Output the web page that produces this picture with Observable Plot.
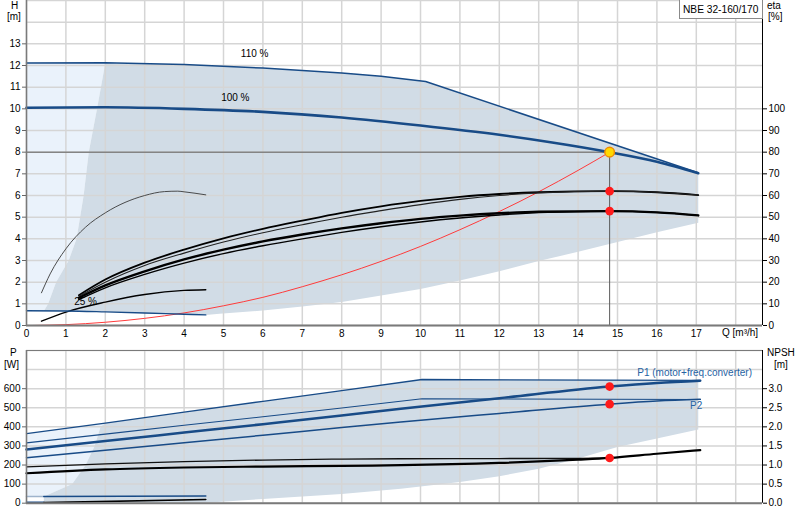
<!DOCTYPE html>
<html><head><meta charset="utf-8">
<script src="https://cdn.jsdelivr.net/npm/d3@7"></script>
<script src="https://cdn.jsdelivr.net/npm/@observablehq/plot@0.6"></script>
<style>
body{margin:0;background:#fff;font-family:"Liberation Sans",Arial,sans-serif;}
#wrap{position:relative;width:800px;height:520px;overflow:hidden;background:#fff}
.lbl{position:absolute;font-size:10px;line-height:12px;color:#000;white-space:nowrap}
#title{position:absolute;left:679px;top:-1px;height:20px;width:84px;border:1px solid #8a8a8a;background:#fff;font-size:10.2px;line-height:19px;padding-left:3px;box-sizing:border-box;white-space:nowrap;overflow:hidden}
</style></head><body>
<div id="wrap">
  <div id="top" style="position:absolute;left:0;top:0"></div>
  <div id="bot" style="position:absolute;left:0;top:345px"></div>
  <div id="title">NBE 32-160/170</div>
  <div class="lbl" style="left:11px;top:0px">H</div>
  <div class="lbl" style="left:7px;top:11px">[m]</div>
  <div class="lbl" style="left:767px;top:0px">eta</div>
  <div class="lbl" style="left:768px;top:11px">[%]</div>
  <div class="lbl" style="left:722px;top:327px">Q [m³/h]</div>
  <div class="lbl" style="left:10px;top:347px">P</div>
  <div class="lbl" style="left:4px;top:359px">[W]</div>
  <div class="lbl" style="left:767px;top:347px">NPSH</div>
  <div class="lbl" style="left:774px;top:359px">[m]</div>
</div>
<script>
// ---------- data (Q in m³/h) ----------
const qMax = 18.68;
const qTicks = d3.range(0, 18);
const qGrid = d3.range(0, 19);
const hTicks = d3.range(0, 14);
const hGrid = d3.range(0, 16);
const etaTicks = d3.range(0, 11);       // in H units, eta = 10*H
const pTicks = d3.range(0, 700, 100);
const pGrid = d3.range(0, 900, 100);

// operating ranges (top)
const lightRangeH = [[0,0.68],[0,12.12],[2.0,12.12],[1.79,10],[1.58,8],[1.45,6],[1.27,4],[1.07,3],[0.75,2],[0.55,1],[0.44,0.67]];
const opRangeH = [[0.44,0.67],[0.55,1],[0.75,2],[1.07,3],[1.27,4],[1.45,6],[1.58,8],[1.79,10],[2.0,12.12],[4,12.05],[6,11.88],[8,11.65],[9,11.5],[10.13,11.26],[17.05,7.05],[17.05,4.74],[16,4.3],[15,3.85],[14,3.4],[13,2.98],[12,2.5],[11,2.08],[10,1.69],[9,1.38],[8,1.08],[7,0.88],[6,0.69],[4.9,0.54],[4.55,0.49],[4,0.52],[3,0.58],[2,0.63],[1,0.67],[0.44,0.67]];

// QH curves
const h110 = [[0,12.12],[2,12.13],[4,12.05],[6,11.88],[8,11.65],[9,11.5],[10.13,11.26],[17.05,7.05]];
const h100 = [[0,10.05],[2,10.07],[4,10.0],[6,9.86],[8,9.6],[10,9.23],[12,8.8],[13.3,8.46],[14.8,8.0],[16,7.56],[17.05,7.03]];
const h25 = [[0,0.68],[1,0.67],[2,0.63],[3,0.58],[4,0.52],[4.55,0.49]];
const systemCurve = [[0.15,0],[1,0.04],[2,0.15],[3,0.33],[4,0.58],[5,0.91],[6,1.3],[7,1.79],[8,2.34],[9,2.96],[10,3.65],[11,4.42],[12,5.26],[13,6.17],[14,7.16],[14.8,8.0]];

// efficiency curves (plotted in H units: eta/10)
const etaHiA = [[1.33,1.4],[2,2.12],[3,2.9],[4,3.5],[5,4.02],[6,4.46],[7,4.84],[8,5.2],[9,5.5],[10,5.75],[11,5.94],[12,6.07],[13,6.15],[14.8,6.2],[16,6.15],[17.05,6.02]];
const etaHiB = [[1.33,1.35],[2,2.0],[3,2.77],[4,3.34],[5,3.85],[6,4.28],[7,4.65],[8,5.0],[9,5.3],[10,5.58],[11,5.82],[12,6.0],[13,6.12],[14.8,6.2],[16,6.15],[17.05,6.02]];
const etaLoA = [[1.33,1.28],[2,1.85],[3,2.5],[4,3.05],[5,3.5],[6,3.88],[7,4.2],[8,4.48],[9,4.72],[10,4.92],[11,5.07],[12,5.18],[13,5.25],[14.8,5.28],[16,5.22],[17.05,5.08]];
const etaLoB = [[1.33,1.2],[2,1.74],[3,2.36],[4,2.88],[5,3.32],[6,3.68],[7,4.0],[8,4.3],[9,4.56],[10,4.78],[11,4.96],[12,5.1],[13,5.21],[14.8,5.28],[16,5.22],[17.05,5.08]];
const eta25Arch = [[0.38,1.51],[0.6,2.38],[1,3.54],[1.5,4.54],[2,5.2],[3,6.0],[3.5,6.18],[3.84,6.2],[4,6.17],[4.55,6.03]];
const eta25Low = [[0.38,0.2],[1,0.62],[2,1.08],[3,1.43],[4,1.62],[4.55,1.65]];

const dutyQ = 14.8, dutyH = 8.0;
const dutyPoint = [[14.8,8.0]];
const etaDots = [[14.8,6.2],[14.8,5.28]];
const topLabels = [[5.79,12.54,"110 %","normal"],[5.3,10.49,"100 %","bold"],[1.5,1.08,"25 %","normal"]];

// power / NPSH (bottom)
const lightRangeP = [[0,35],[0,365],[2.0,420],[1.88,400],[1.73,300],[1.5,200],[1.16,100],[0.44,35]];
const opRangeP = [[0.44,0],[0.44,35],[1.16,100],[1.5,200],[1.73,300],[1.88,400],[2.0,420],[4,477],[6,534],[8,590],[10.04,648],[17.05,643],[17.05,386],[16,339],[15,295],[14,234],[13,181],[12,141],[11,111],[10,88],[9.5,76],[8,48],[6,22],[4.55,3],[4.3,0]];
const p1Max = [[0,365],[2,420],[4,477],[6,534],[8,590],[10.04,648],[17.1,643]];
const p2Max = [[0,316],[2,362],[4,408],[6,453],[8,499],[10.04,547],[17.1,543]];
const p1Duty = [[0,281],[2,326],[4,370],[6,414],[8,459],[9.5,495],[12,550],[14.8,611],[16,630],[17.1,642]];
const p2Duty = [[0,238],[2,278],[4,317],[6,356],[8,396],[9.5,425],[12,470],[14.8,519],[16,535],[17.1,544]];
const npshA = [[0,190],[2,206],[4,218],[6,226],[8,231],[9.5,233],[12,234],[14,235],[14.8,237]];
const npshB = [[0,157],[2,177],[4,187],[6,192],[8,196],[9.5,199],[12,211],[14,228],[14.8,237],[16,259],[17.1,278]];
const p25Blue = [[0.44,35],[4.55,38]];
const p25BlueLight = [[0,35],[0.44,35]];
const p25BlueLow = [[0,5],[0.44,5]];
const p25Black = [[0.44,3],[4.55,19]];
const pDots = [[14.8,611],[14.8,519],[14.8,237]];
const bottomLabels = [[15.5,683,"P1 (motor+freq.converter)"],[16.84,508,"P2"]];

// ---------- drawing ----------
const BLUE = "#184b87", DARK = "#d1dce6", LIGHT = "#eaf2fb", GRID = "#d5d5d5";
const qx = d => d[0], qy = d => d[1];
const ln = (data, o) => Plot.line(data, {x: qx, y: qy, curve: "monotone-x", ...o});
const poly = (data, fill) => Plot.line(data, {x: qx, y: qy, fill, stroke: "none", curve: "linear"});
const style = {fontFamily: "Liberation Sans, Arial, sans-serif", fontSize: "10px", background: "transparent", color: "#000"};

const topPlot = Plot.plot({
  width: 800, height: 345, marginLeft: 26, marginRight: 38, marginTop: 0, marginBottom: 20,
  style,
  x: {domain: [0, qMax], axis: null},
  y: {domain: [0, 15], axis: null},
  marks: [
    poly(lightRangeH, LIGHT),
    poly(opRangeH, DARK),
    Plot.ruleX(qGrid, {stroke: GRID, strokeWidth: 1.5}),
    Plot.ruleY(hGrid, {stroke: GRID, strokeWidth: 1.5}),
    Plot.ruleY([dutyH], {x1: 0, x2: dutyQ, stroke: "#5a5a5a", strokeWidth: 1}),
    Plot.ruleX([dutyQ], {y1: 0, y2: dutyH, stroke: "#5a5a5a", strokeWidth: 1}),
    ln(systemCurve, {stroke: "#ff3b3b", strokeWidth: 1}),
    ln(eta25Arch, {stroke: "#3a3a3a", strokeWidth: 0.9}),
    ln(eta25Low, {stroke: "#000", strokeWidth: 1.4}),
    ln(etaHiA, {stroke: "#000", strokeWidth: 1.8}),
    ln(etaHiB, {stroke: "#222", strokeWidth: 1.1}),
    ln(etaLoA, {stroke: "#000", strokeWidth: 2.4}),
    ln(etaLoB, {stroke: "#000", strokeWidth: 1.4}),
    ln(h25, {stroke: BLUE, strokeWidth: 1.4}),
    ln(h100, {stroke: BLUE, strokeWidth: 2.6}),
    Plot.line(h110, {x: qx, y: qy, stroke: BLUE, strokeWidth: 1.5}),
    Plot.ruleX([0], {stroke: "#7a7a7a", strokeWidth: 1.5}),
    Plot.ruleY([0], {stroke: "#7a7a7a", strokeWidth: 2}),
    Plot.ruleX([qMax], {stroke: "#000", strokeWidth: 1}),
    Plot.axisY({ticks: hTicks, anchor: "left", tickSize: 4, tickPadding: 2, label: null, stroke: "#666"}),
    Plot.axisY({ticks: etaTicks, anchor: "right", tickSize: 4, tickPadding: 2, label: null, tickFormat: d => d * 10, stroke: "#000"}),
    Plot.axisX({ticks: qTicks, anchor: "bottom", tickSize: 0, tickPadding: 4, label: null}),
    Plot.text(topLabels, {x: qx, y: qy, text: d => d[2], fontWeight: d => d[3], fontSize: 10, fill: "#000"}),
    Plot.dot(etaDots, {x: qx, y: qy, r: 4.3, fill: "#ff1a1a", stroke: "none"}),
    Plot.dot(dutyPoint, {x: qx, y: qy, r: 4.8, fill: "#ffd900", stroke: "#f08c00", strokeWidth: 1.5})
  ]
});
document.getElementById("top").appendChild(topPlot);

const botPlot = Plot.plot({
  width: 800, height: 175, marginLeft: 26, marginRight: 38, marginTop: 5, marginBottom: 17.3,
  style,
  x: {domain: [0, qMax], axis: null},
  y: {domain: [0, 800], axis: null},
  marks: [
    poly(lightRangeP, LIGHT),
    poly(opRangeP, DARK),
    Plot.ruleX(qGrid, {stroke: GRID, strokeWidth: 1.5}),
    Plot.ruleY(pGrid, {stroke: GRID, strokeWidth: 1.5}),
    ln(npshA, {stroke: "#111", strokeWidth: 1.3}),
    ln(npshB, {stroke: "#000", strokeWidth: 2.2}),
    Plot.line(p25BlueLight, {x: qx, y: qy, stroke: "#9fb4cc", strokeWidth: 1.5}),
    Plot.line(p25Blue, {x: qx, y: qy, stroke: BLUE, strokeWidth: 1.6}),
    Plot.line(p25BlueLow, {x: qx, y: qy, stroke: BLUE, strokeWidth: 1.6}),
    Plot.line(p25Black, {x: qx, y: qy, stroke: "#000", strokeWidth: 1.6}),
    Plot.line(p1Max, {x: qx, y: qy, stroke: BLUE, strokeWidth: 1.3}),
    Plot.line(p2Max, {x: qx, y: qy, stroke: BLUE, strokeWidth: 1.1}),
    ln(p2Duty, {stroke: BLUE, strokeWidth: 1.5}),
    ln(p1Duty, {stroke: BLUE, strokeWidth: 2.5}),
    Plot.ruleX([0], {stroke: "#7a7a7a", strokeWidth: 1.5}),
    Plot.ruleY([0], {stroke: "#7a7a7a", strokeWidth: 2}),
    Plot.ruleY([800], {stroke: "#7a7a7a", strokeWidth: 1}),
    Plot.ruleX([qMax], {stroke: "#000", strokeWidth: 1}),
    Plot.axisY({ticks: pTicks, anchor: "left", tickSize: 4, tickPadding: 2, label: null, stroke: "#666"}),
    Plot.axisY({ticks: pTicks, anchor: "right", tickSize: 4, tickPadding: 2, label: null, tickFormat: d => (d / 200).toFixed(1), stroke: "#000"}),
    Plot.text(bottomLabels, {x: qx, y: qy, text: d => d[2], textAnchor: "start", fontSize: 10, fill: "#2663a3"}),
    Plot.dot(pDots, {x: qx, y: qy, r: 4.3, fill: "#ff1a1a", stroke: "none"})
  ]
});
document.getElementById("bot").appendChild(botPlot);
</script>
</body></html>
